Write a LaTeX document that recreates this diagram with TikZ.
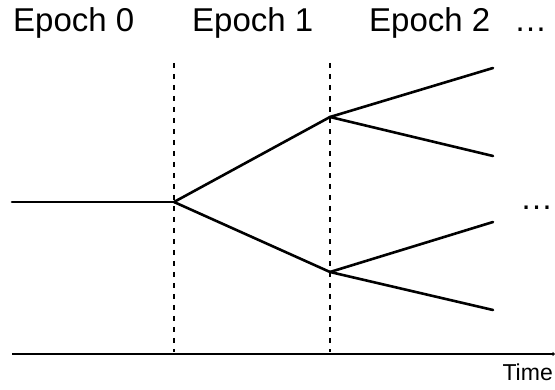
\documentclass[tikz,border=0pt]{standalone}
\usepackage{fontspec}
\setmainfont{Liberation Sans}
\usetikzlibrary{arrows.meta}
\begin{document}
\begin{tikzpicture}[x=1pt,y=-1pt,
  branch/.style={line width=2.6pt,line cap=round},
  epochline/.style={line width=2.2pt,dash pattern=on 5pt off 6pt},
  axisline/.style={line width=1.3pt,-{Latex[length=2.5pt,width=5pt]}},
  bigtext/.style={inner sep=0pt,anchor=base west,font=\fontsize{33}{40}\selectfont},
  smalltext/.style={inner sep=0pt,anchor=base east,font=\fontsize{23}{27}\selectfont}]
\useasboundingbox (0,0) rectangle (555,390);
% text
\node[bigtext] (e0) at (13,32) {Epoch 0};
\node[bigtext] (e1) at (192,32) {Epoch 1};
\node[bigtext] (e2) at (369,32) {Epoch 2};
\node[bigtext] (d1) at (514,32) {\dots};
\node[bigtext] (d2) at (520,210) {\dots};
\node[smalltext] (tm) at (553,381) {Time};
% coordinates
\coordinate (s) at (12,202);
\coordinate (a) at (174,202);
\coordinate (b) at (330,117);
\coordinate (c) at (330,272);
\coordinate (b1) at (493,68);
\coordinate (b2) at (493,156);
\coordinate (c1) at (493,222);
\coordinate (c2) at (493,310);
\coordinate (v1t) at (174,63);
\coordinate (v1b) at (174,352);
\coordinate (v2t) at (330,63);
\coordinate (v2b) at (330,352);
\coordinate (x0) at (12,354);
\coordinate (x1) at (555,354);
% dashed epoch boundaries
\draw[epochline] (v1t) -- (v1b);
\draw[epochline] (v2t) -- (v2b);
% branches
\draw[branch] (s) -- (a);
\draw[branch] (a) -- (b);
\draw[branch] (a) -- (c);
\draw[branch] (b) -- (b1);
\draw[branch] (b) -- (b2);
\draw[branch] (c) -- (c1);
\draw[branch] (c) -- (c2);
% axis
\draw[axisline] (x0) -- (x1);
\end{tikzpicture}
\end{document}
